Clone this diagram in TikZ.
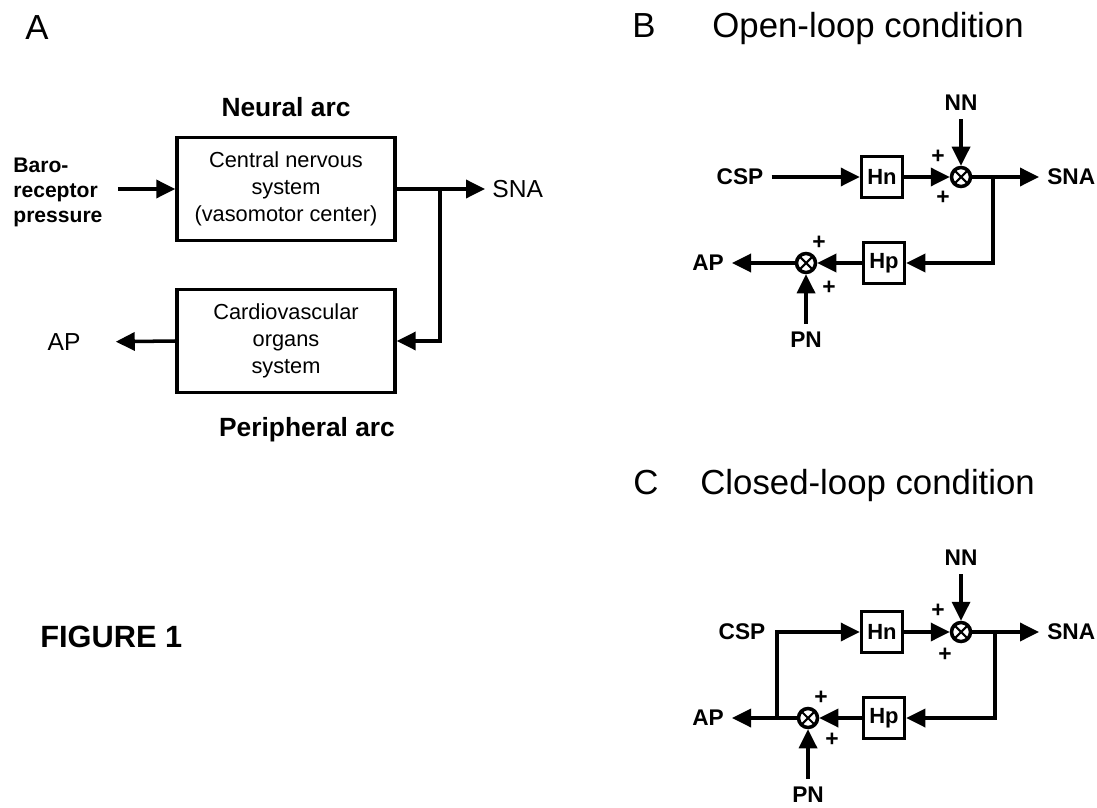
\documentclass[tikz,border=0pt]{standalone}
\usepackage{fontspec}
\setmainfont{Liberation Sans}
\usetikzlibrary{arrows.meta,positioning,calc}
\tikzset{
 blockbox/.style={draw,line width=2pt,minimum width=4.36cm,minimum height=2.06cm,align=center,
   inner sep=2pt,font=\fontsize{12.4}{15.2}\selectfont},
 hbox/.style={draw,line width=2pt,minimum size=0.82cm,inner sep=0pt,font=\bfseries\fontsize{12.5}{14}\selectfont},
 sumnode/.style={circle,draw,line width=2pt,minimum size=0.38cm,inner sep=0pt,
   path picture={\draw[line width=1.2pt] (path picture bounding box.south west)--(path picture bounding box.north east)
     (path picture bounding box.north west)--(path picture bounding box.south east);}},
 lbl/.style={inner sep=4pt,font=\fontsize{14}{16}\selectfont},
 sig/.style={inner sep=4.5pt,font=\bfseries\fontsize{12.9}{15}\selectfont},
 plus/.style={inner sep=0pt,font=\bfseries\fontsize{13}{14}\selectfont},
 arclabel/.style={font=\bfseries\fontsize{15}{18}\selectfont},
 paneltitle/.style={anchor=base west,inner sep=0pt,font=\fontsize{19.8}{24}\selectfont},
 arr/.style={-{Triangle[length=3.8mm,width=3.6mm]},line width=2pt}
}
\begin{document}
\begin{tikzpicture}[x=0.02cm,y=-0.02cm]
 \useasboundingbox (0,0) rectangle (1097,807);
 % panel titles
 \node[paneltitle] (tA) at (25,40) {A};
 \node[paneltitle] (tB) at (632,38) {B};
 \node[paneltitle] (tBtext) at (712,38) {Open-loop condition};
 \node[paneltitle] (tC) at (633,494) {C};
 \node[paneltitle] (tCtext) at (700,494) {Closed-loop condition};
 \node[anchor=base west,inner sep=0pt,font=\bfseries\fontsize{17.5}{20}\selectfont] (fig) at (40,647) {FIGURE 1};

 % A: baroreflex arcs
 \node[blockbox] (cns) at (286,189) {Central nervous\\system\\(vasomotor center)};
 \node[blockbox] (cvs) at (286,341) {Cardiovascular\\organs\\system};
 \node[arclabel] (neural) at (286,107) {Neural arc};
 \node[arclabel] (periph) at (307,430) {Peripheral arc};
 \node[lbl,anchor=west,align=left,font=\bfseries\fontsize{12}{14.2}\selectfont] (baro) at (6,192) {Baro-\\receptor\\pressure};
 \node[lbl,anchor=west] (snaA) at (485,189) {SNA};
 \node[lbl] (apA) at (64,342) {AP};
 \coordinate (jA) at (440,189);
 \draw[arr,shorten <=0.16cm] (baro.east |- cns.west) -- (cns.west);
 \draw[arr] (cns.east) -- (snaA.west);
 \draw[arr] (jA) |- (cvs.east);
 \draw[arr,shorten >=0.56cm] (cvs.west) -- (apA.east);

 % B: open loop
 \node[hbox] (bHn) at (882,177) {Hn};
 \node[sumnode] (bS1) at (961,177) {};
 \node[sig] (bCSP) at (740,177) {CSP};
 \node[sig] (bNN) at (961,103) {NN};
 \node[sig,anchor=west] (bSNA) at (1039,177) {SNA};
 \node[hbox] (bHp) at (884,263) {Hp};
 \node[sumnode] (bS2) at (806,263) {};
 \node[sig] (bAP) at (708,263) {AP};
 \node[sig] (bPN) at (806,340) {PN};
 \node[plus] (bP1) at (938,157) {+};
 \node[plus] (bP2) at (943,198) {+};
 \node[plus] (bP3) at (819,243) {+};
 \node[plus] (bP4) at (829,288) {+};
 \coordinate (bJ) at (993,177);
 \draw[arr] (bCSP) -- (bHn);
 \draw[arr] (bHn) -- (bS1);
 \draw[arr] (bNN) -- (bS1);
 \draw[arr] (bS1) -- (bSNA);
 \draw[arr] (bJ) |- (bHp);
 \draw[arr] (bHp) -- (bS2);
 \draw[arr] (bS2) -- (bAP);
 \draw[arr] (bPN) -- (bS2);

 % C: closed loop
 \node[hbox] (cHn) at (882,632) {Hn};
 \node[sumnode] (cS1) at (961,632) {};
 \node[sig] (cCSP) at (742,632) {CSP};
 \node[sig] (cNN) at (961,558) {NN};
 \node[sig,anchor=west] (cSNA) at (1039,632) {SNA};
 \node[hbox] (cHp) at (884,718) {Hp};
 \node[sumnode] (cS2) at (808,718) {};
 \node[sig] (cAP) at (708,718) {AP};
 \node[sig] (cPN) at (808,795) {PN};
 \node[plus] (cP1) at (938,611) {+};
 \node[plus] (cP2) at (945,655) {+};
 \node[plus] (cP3) at (821,698) {+};
 \node[plus] (cP4) at (832,740) {+};
 \coordinate (cJ) at (995,632);
 \coordinate (cK) at (777,718);
 \draw[arr] (cK) |- (cHn);
 \draw[arr] (cHn) -- (cS1);
 \draw[arr] (cNN) -- (cS1);
 \draw[arr] (cS1) -- (cSNA);
 \draw[arr] (cJ) |- (cHp);
 \draw[arr] (cHp) -- (cS2);
 \draw[arr] (cS2) -- (cAP);
 \draw[arr] (cPN) -- (cS2);
\end{tikzpicture}
\end{document}
